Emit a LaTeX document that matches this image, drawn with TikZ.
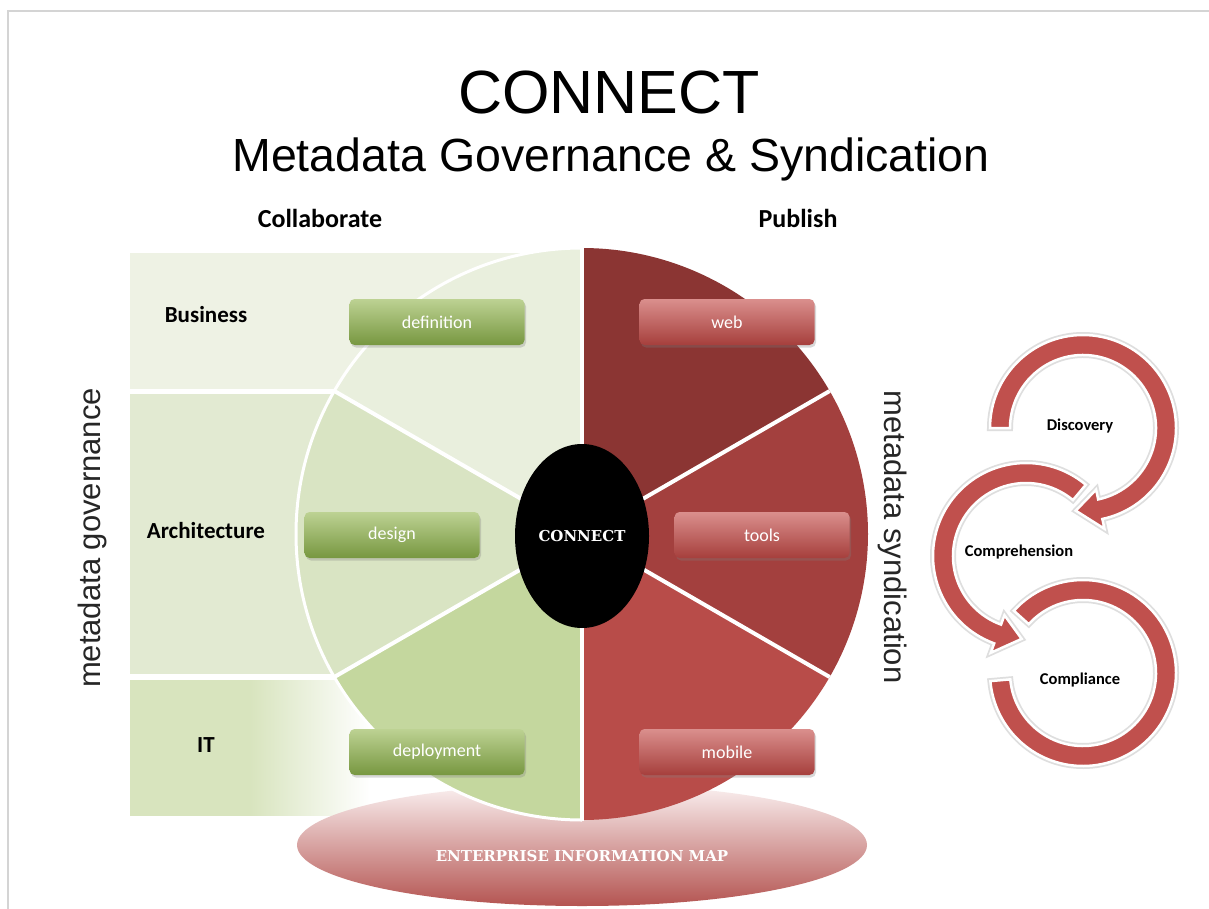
\documentclass[tikz,border=0pt]{standalone}
\usepackage{fontspec}
\newfontfamily\arialf{Liberation Sans}
\newfontfamily\calib{Carlito}
\newfontfamily\slab{DejaVu Serif}
\usetikzlibrary{calc,shapes.geometric,shadows}
\definecolor{framegray}{HTML}{D4D4D4}
\definecolor{bizc}{HTML}{EEF2E4}
\definecolor{archc}{HTML}{E2EAD2}
\definecolor{itc}{HTML}{D8E4BE}
\definecolor{gA}{HTML}{E9EFDD}
\definecolor{gB}{HTML}{D9E4C3}
\definecolor{gC}{HTML}{C4D79E}
\definecolor{rA}{HTML}{8B3533}
\definecolor{rB}{HTML}{A3403E}
\definecolor{rC}{HTML}{B84C49}
\definecolor{gtop}{HTML}{BDD293}
\definecolor{gbot}{HTML}{779740}
\definecolor{rtop}{HTML}{DA8F8D}
\definecolor{rbot}{HTML}{A63F3C}
\definecolor{cycred}{HTML}{C0504D}
\definecolor{etop}{HTML}{FBF2F2}
\definecolor{emid}{HTML}{E0ADAC}
\definecolor{ebot}{HTML}{B45451}
\pgfdeclarehorizontalshading{itfade}{100bp}{color(0bp)=(itc); color(50bp)=(itc); color(75bp)=(white); color(100bp)=(white)}
\tikzset{
  btn/.style={rounded corners=5, minimum width=175, minimum height=46, inner sep=0,
    text=white, font=\calib\fontsize{18}{20}\selectfont,
    drop shadow={opacity=0.3, shadow xshift=1.5, shadow yshift=-2.5}},
  btngreen/.style={btn, top color=gtop, bottom color=gbot},
  btnred/.style={btn, top color=rtop, bottom color=rbot},
  sidelabel/.style={font=\calib\bfseries\fontsize{23}{26}\selectfont, text=black},
  headlabel/.style={font=\calib\bfseries\fontsize{26}{30}\selectfont, text=black},
  cyclabel/.style={font=\calib\bfseries\fontsize{16.5}{19}\selectfont, text=black},
  vlabel/.style={font=\arialf\fontsize{31}{35}\selectfont, text=black!85},
  slabtext/.style={text=white, font=\slab\bfseries\fontsize{15}{17}\selectfont},
  cyc/.style={fill=cycred, draw=white, line width=2.5, line join=miter,
    preaction={draw=black!13, line width=6}},
  sep/.style={white, line width=4}
}
\begin{document}
\begin{tikzpicture}[x=1pt,y=1pt]
\useasboundingbox (0,0) rectangle (1209,-909);
\fill[white] (0,0) rectangle (1209,-909);
\draw[framegray, line width=2.5] (8,-909) -- (8,-11) -- (1209,-11);

% titles
\node[font=\arialf\fontsize{61}{70}\selectfont] (title) at (609,-93) {CONNECT};
\node[font=\arialf\fontsize{46.5}{52}\selectfont, anchor=base] (subtitle) at (611,-172) {Metadata Governance \& Syndication};
\node[headlabel] (collab) at (320,-218) {Collaborate};
\node[headlabel] (publish) at (798,-218) {Publish};

% left bands
\fill[bizc] (130,-253) rectangle (582,-389);
\fill[archc] (130,-394) rectangle (582,-674);
\shade[shading=itfade] (130,-680) rectangle (370,-815);
\fill[white] (369,-680) rectangle (582,-815);

% bottom ellipse
\node[ellipse, minimum width=570, minimum height=122, inner sep=0,
      top color=etop, middle color=emid, bottom color=ebot] (eim) at (582,-845) {};

% circle sectors
\begin{scope}[shift={(582,-534)}]
\fill[gA] (0,0) -- (90:286) arc[start angle=90, end angle=150, radius=286] -- cycle;
\fill[gB] (0,0) -- (150:286) arc[start angle=150, end angle=210, radius=286] -- cycle;
\fill[gC] (0,0) -- (210:286) arc[start angle=210, end angle=270, radius=286] -- cycle;
\fill[rA] (0,0) -- (90:286) arc[start angle=90, end angle=30, radius=286] -- cycle;
\fill[rB] (0,0) -- (30:286) arc[start angle=30, end angle=-30, radius=286] -- cycle;
\fill[rC] (0,0) -- (-30:286) arc[start angle=-30, end angle=-90, radius=286] -- cycle;
\draw[white, line width=3] (90:286) arc[start angle=90, end angle=270, radius=286];
\draw[sep] (90:287) -- (-90:287);
\draw[sep] (0,0) -- (30:286);
\draw[sep] (0,0) -- (-30:286);
\draw[sep] (0,0) -- (150:286);
\draw[sep] (0,0) -- (210:286);
\end{scope}

\node[slabtext] (eimtext) at (582,-856) {ENTERPRISE INFORMATION MAP};

% hub
\node[ellipse, fill=black, minimum width=134, minimum height=184, inner sep=0, slabtext] (hub) at (582,-536) {CONNECT};

% side labels
\node[sidelabel] (business) at (206,-315) {Business};
\node[sidelabel] (arch) at (206,-531) {Architecture};
\node[sidelabel] (it) at (206,-745) {IT};
\node[vlabel, rotate=90] (gov) at (92,-538) {metadata governance};
\node[vlabel, rotate=-90] (synd) at (893,-537) {metadata syndication};

% buttons
\node[btngreen] (definition) at (437,-322) {definition};
\node[btngreen] (design) at (392,-535) {design};
\node[btngreen] (deployment) at (437,-752) {deployment};
\node[btnred] (web) at (727,-322) {web};
\node[btnred] (tools) at (762,-535) {tools};
\node[btnred] (mobile) at (727,-752) {mobile};

% cycle arrows
\begin{scope}[shift={(1083,-673)}]
\path[cyc] (138:93) arc[start angle=138, end angle=-175, radius=93] -- (-175:73)
  arc[start angle=-175, end angle=138, radius=73] -- cycle;
\end{scope}
\begin{scope}[shift={(1026,-556)}]
\path[cyc] (50:93) arc[start angle=50, end angle=250, radius=93] -- (250:103) -- (267:83)
  -- (250:63) -- (250:73) arc[start angle=250, end angle=50, radius=73] -- cycle;
\end{scope}
\begin{scope}[shift={(1083,-428)}]
\path[cyc] (180:93) arc[start angle=180, end angle=-78, radius=93] -- (-78:103) -- (-95:83)
  -- (-78:63) -- (-78:73) arc[start angle=-78, end angle=180, radius=73] -- cycle;
\end{scope}
\node[cyclabel] (discovery) at (1080,-426) {Discovery};
\node[cyclabel] (comprehension) at (1019,-552) {Comprehension};
\node[cyclabel] (compliance) at (1080,-680) {Compliance};
\end{tikzpicture}
\end{document}
